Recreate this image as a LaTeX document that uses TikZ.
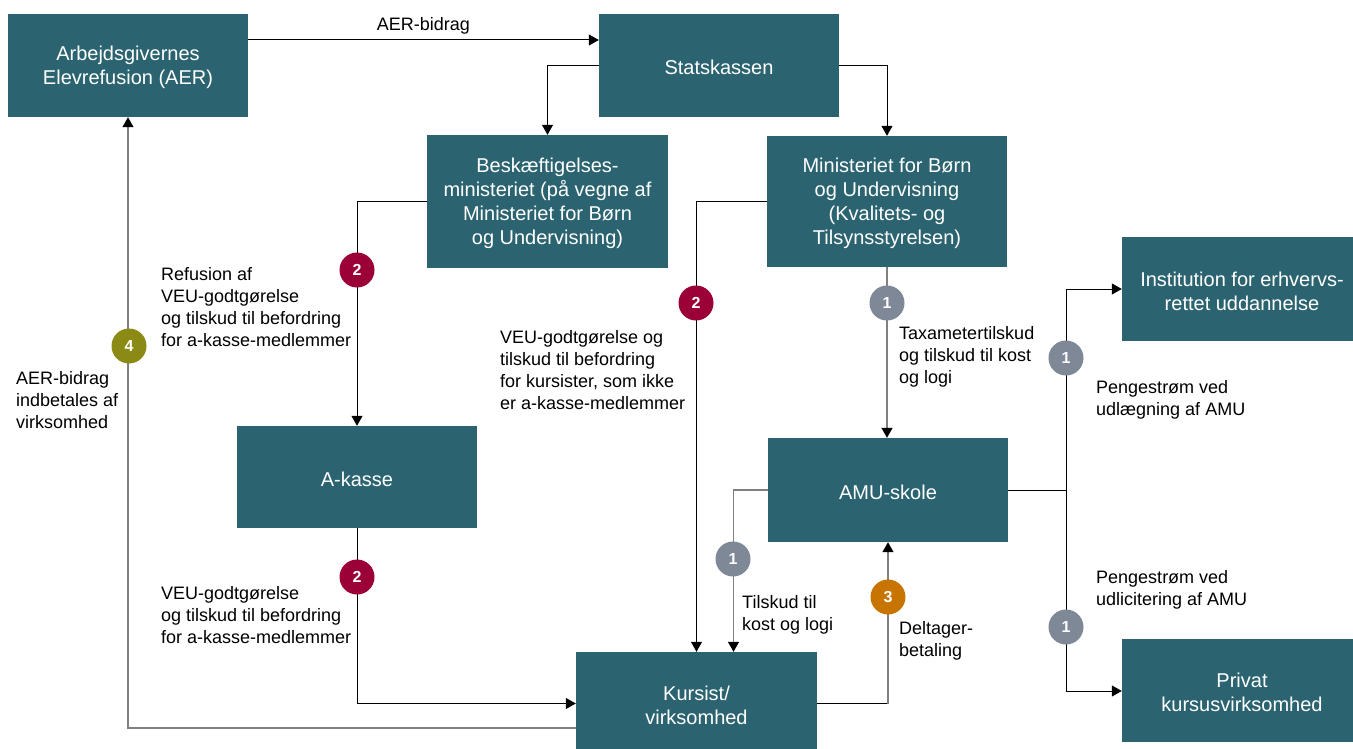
\documentclass[tikz,border=0pt]{standalone}
\usepackage{fontspec}
\setmainfont{Liberation Sans}
\usetikzlibrary{arrows.meta,calc}
\definecolor{teal}{HTML}{2B6470}
\definecolor{bred}{HTML}{9B0036}
\definecolor{bgrey}{HTML}{7E8897}
\definecolor{borange}{HTML}{C87400}
\definecolor{bolive}{HTML}{8A8A14}
\definecolor{lgrey}{HTML}{808080}
\begin{document}
\begin{tikzpicture}[x=1pt,y=-1pt,
  box/.style={fill=teal,inner sep=0pt},
  boxtext/.style={text=white,align=center,inner sep=0pt,yshift=-2pt,
    font=\fontsize{20}{24}\selectfont},
  lbl/.style={anchor=west,align=left,inner sep=0pt,
    font=\fontsize{18}{22}\selectfont},
  badge/.style={circle,fill=#1,text=white,minimum size=35pt,inner sep=0pt,
    font=\fontsize{16}{16}\selectfont\bfseries},
  line/.style={draw=black,line width=1pt},
  arr/.style={line,-{Triangle[length=10pt,width=11pt,color=black]}},
  garr/.style={arr,draw=lgrey,line width=1.3pt},
]
\useasboundingbox (0,0) rectangle (1353,749);

% boxes
\node[box,minimum width=240pt,minimum height=103pt,label={[boxtext]center:{Arbejdsgivernes\\Elevrefusion (AER)}}] (aer) at (128,65.5) {};
\node[box,minimum width=240pt,minimum height=103pt,label={[boxtext]center:Statskassen}] (stat) at (719,65.5) {};
\node[box,minimum width=241pt,minimum height=133pt,label={[boxtext]center:{Beskæftigelses-\\ministeriet (på vegne af\\Ministeriet for Børn\\og Undervisning)}}] (besk) at (547.5,201.5) {};
\node[box,minimum width=240pt,minimum height=131pt,label={[boxtext]center:{Ministeriet for Børn\\og Undervisning\\(Kvalitets- og\\Tilsynsstyrelsen)}}] (mbu) at (887,201.5) {};
\node[box,minimum width=240pt,minimum height=104pt,label={[boxtext]center:{Institution for erhvervs-\\rettet uddannelse}}] (inst) at (1242,289) {};
\node[box,minimum width=240pt,minimum height=102pt,label={[boxtext]center:A-kasse}] (akasse) at (357,477) {};
\node[box,minimum width=240pt,minimum height=104pt,label={[boxtext]center:AMU-skole}] (amu) at (888,490) {};
\node[box,minimum width=241pt,minimum height=103pt,label={[boxtext]center:{Kursist/\\virksomhed}}] (kursist) at (696.5,703.5) {};
\node[box,minimum width=240pt,minimum height=103pt,label={[boxtext]center:{Privat\\kursusvirksomhed}}] (privat) at (1242,690.5) {};

% connectors
\draw[arr] ([yshift=25.5pt]aer.east) -- ([yshift=25.5pt]stat.west)
  node[midway,above=5pt,font=\fontsize{18}{22}\selectfont,inner sep=0pt] (lab0) {AER-bidrag};
\draw[arr] (stat.west) -| (besk.north);
\draw[arr] (stat.east) -| (mbu.north);
\draw[arr] (besk.west) -| (akasse.north);
\draw[arr] (mbu.west) -| (kursist.north);
\draw[garr] (mbu.south) -- (mbu.south |- amu.north);
\draw[garr] (amu.west) -| ([xshift=37pt]kursist.north);
\draw[line] (kursist.east) -- (kursist.east -| amu.south) coordinate (k3);
\draw[garr] (k3) -- (amu.south);
\draw[line] (amu.east) -- ++(58,0) coordinate (split);
\draw[arr] (split) |- (inst.west);
\draw[arr] (split) |- ([yshift=-0.5pt]privat.west);
\draw[arr] (akasse.south) |- (kursist.west);
\draw[garr] ([yshift=-24.5pt]kursist.west) -| (aer.south);

% badges
\node[badge=bred] (b2a) at (357,270) {2};
\node[badge=bred] (b2b) at (696,303) {2};
\node[badge=bred] (b2c) at (357,577) {2};
\node[badge=bgrey] (b1a) at (887,303) {1};
\node[badge=bgrey] (b1b) at (733,559) {1};
\node[badge=bgrey] (b1c) at (1066,358) {1};
\node[badge=bgrey] (b1d) at (1066,627) {1};
\node[badge=borange] (b3) at (888,597) {3};
\node[badge=bolive] (b4) at (129,346) {4};

% labels
\node[lbl] (l1) at (161,307.5) {Refusion af\\VEU-godtgørelse\\og tilskud til befordring\\for a-kasse-medlemmer};
\node[lbl] (l2) at (16,400.5) {AER-bidrag\\indbetales af\\virksomhed};
\node[lbl] (l3) at (500,370.5) {VEU-godtgørelse og\\tilskud til befordring\\for kursister, som ikke\\er a-kasse-medlemmer};
\node[lbl] (l4) at (899,357) {Taxametertilskud\\og tilskud til kost\\og logi};
\node[lbl] (l5) at (1096,400) {Pengestrøm ved\\udlægning af AMU};
\node[lbl] (l6) at (1096,590) {Pengestrøm ved\\udlicitering af AMU};
\node[lbl] (l7) at (742,614.5) {Tilskud til\\kost og logi};
\node[lbl] (l8) at (899,640.5) {Deltager-\\betaling};
\node[lbl] (l9) at (161,615.5) {VEU-godtgørelse\\og tilskud til befordring\\for a-kasse-medlemmer};
\end{tikzpicture}
\end{document}
